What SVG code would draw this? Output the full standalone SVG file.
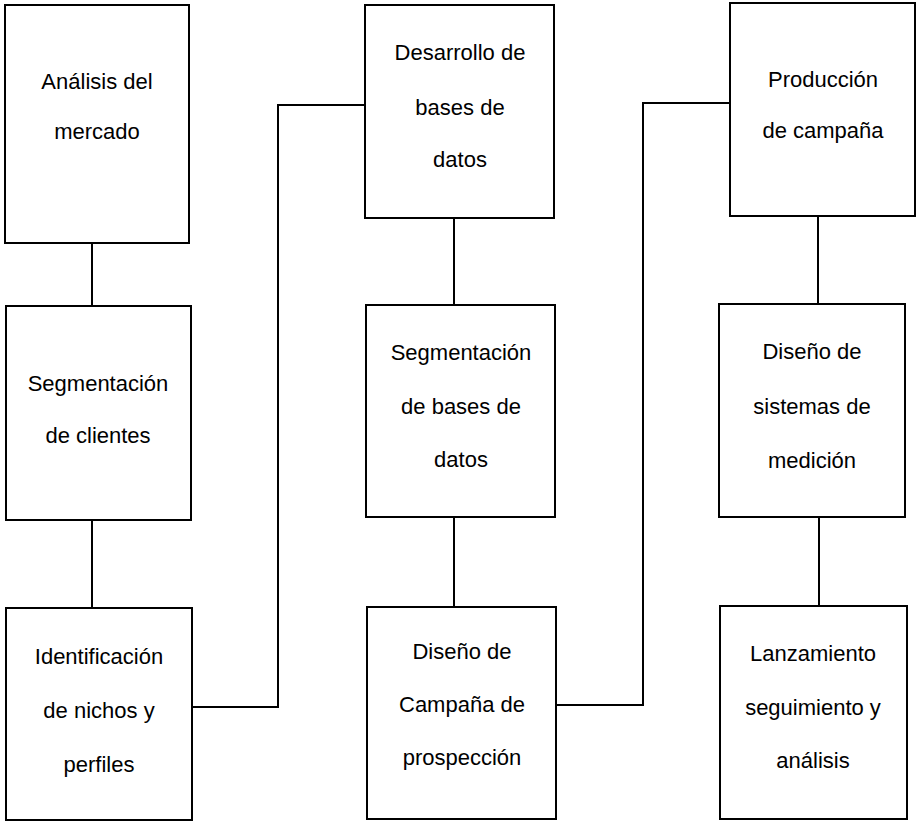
<svg xmlns="http://www.w3.org/2000/svg" width="918" height="822" viewBox="0 0 918 822">
  <style>
    .box { fill: #ffffff; stroke: #000000; stroke-width: 2; }
    .link { fill: none; stroke: #000000; stroke-width: 2; }
    .label { font-family: "Liberation Sans", Arial, sans-serif; font-size: 22px; fill: #000000; text-anchor: middle; }
  </style>
  <rect width="918" height="822" fill="#ffffff"/>

  <!-- connectors -->
  <g id="connectors">
    <path class="link" d="M92 243 V306"/>
    <path class="link" d="M92 520 V608"/>
    <path class="link" d="M192 707 H278 V105 H365"/>
    <path class="link" d="M454 218 V305"/>
    <path class="link" d="M454 517 V607"/>
    <path class="link" d="M556 705 H643 V103 H730"/>
    <path class="link" d="M818 216 V304"/>
    <path class="link" d="M819 517 V606"/>
  </g>

  <!-- column 1 -->
  <g id="analisis-mercado">
    <rect class="box" x="5" y="5" width="184" height="238"/>
    <text class="label" x="97" y="89">Análisis del</text>
    <text class="label" x="97" y="139">mercado</text>
  </g>
  <g id="segmentacion-clientes">
    <rect class="box" x="6" y="306" width="185" height="214"/>
    <text class="label" x="98" y="391">Segmentación</text>
    <text class="label" x="98" y="443">de clientes</text>
  </g>
  <g id="identificacion-nichos">
    <rect class="box" x="6" y="608" width="186" height="212"/>
    <text class="label" x="99" y="664">Identificación</text>
    <text class="label" x="99" y="718">de nichos y</text>
    <text class="label" x="99" y="772">perfiles</text>
  </g>

  <!-- column 2 -->
  <g id="desarrollo-bases">
    <rect class="box" x="365" y="5" width="189" height="213"/>
    <text class="label" x="460" y="60">Desarrollo de</text>
    <text class="label" x="460" y="115">bases de</text>
    <text class="label" x="460" y="167">datos</text>
  </g>
  <g id="segmentacion-bases">
    <rect class="box" x="366" y="305" width="189" height="212"/>
    <text class="label" x="461" y="360">Segmentación</text>
    <text class="label" x="461" y="414">de bases de</text>
    <text class="label" x="461" y="467">datos</text>
  </g>
  <g id="diseno-campana">
    <rect class="box" x="367" y="607" width="189" height="212"/>
    <text class="label" x="462" y="659">Diseño de</text>
    <text class="label" x="462" y="712">Campaña de</text>
    <text class="label" x="462" y="765">prospección</text>
  </g>

  <!-- column 3 -->
  <g id="produccion-campana">
    <rect class="box" x="730" y="3" width="185" height="213"/>
    <text class="label" x="823" y="87">Producción</text>
    <text class="label" x="823" y="138">de campaña</text>
  </g>
  <g id="diseno-medicion">
    <rect class="box" x="719" y="304" width="186" height="213"/>
    <text class="label" x="812" y="359">Diseño de</text>
    <text class="label" x="812" y="414">sistemas de</text>
    <text class="label" x="812" y="468">medición</text>
  </g>
  <g id="lanzamiento">
    <rect class="box" x="720" y="606" width="187" height="213"/>
    <text class="label" x="813" y="661">Lanzamiento</text>
    <text class="label" x="813" y="715">seguimiento y</text>
    <text class="label" x="813" y="768">análisis</text>
  </g>
</svg>
